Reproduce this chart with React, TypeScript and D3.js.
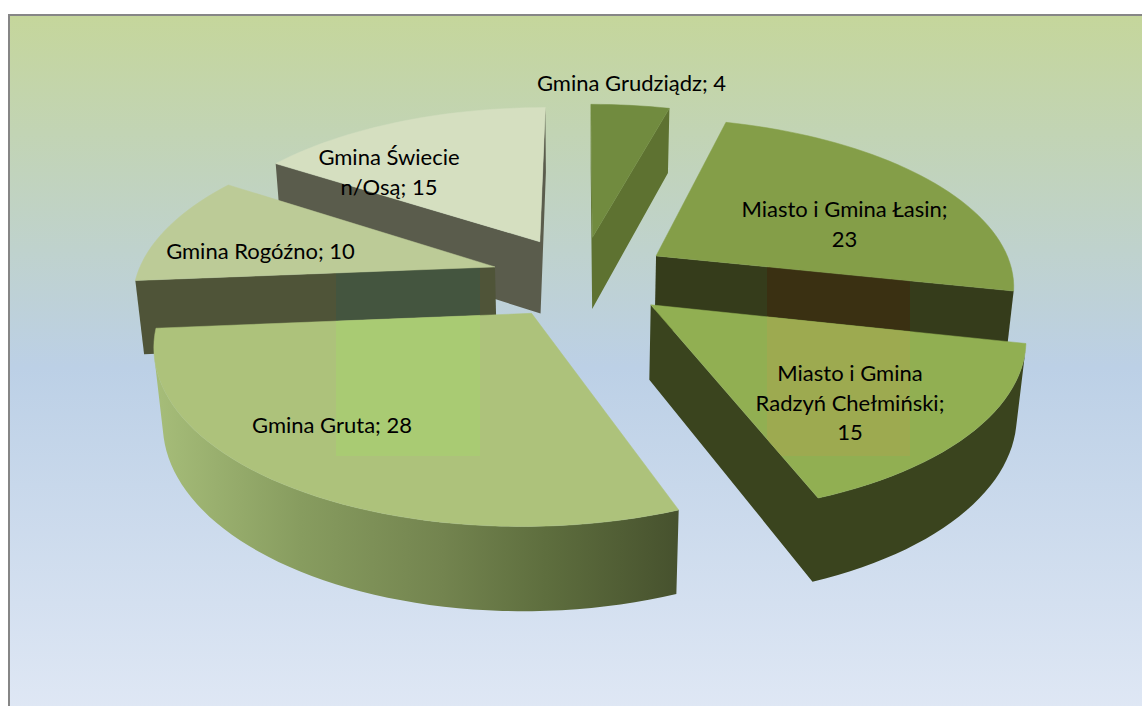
import React from "react";
import * as d3 from "d3";

const categories = ["Gmina Grudziądz", "Miasto i Gmina Łasin", "Miasto i Gmina Radzyń Chełmiński", "Gmina Gruta", "Gmina Rogóźno", "Gmina Świecie n/Osą"];
const values = [4, 23, 15, 28, 10, 15];
const labelLines = [
  ["Gmina Grudziądz; 4"],
  ["Miasto i Gmina Łasin;", "23"],
  ["Miasto i Gmina", "Radzyń Chełmiński;", "15"],
  ["Gmina Gruta; 28"],
  ["Gmina Rogóźno; 10"],
  ["Gmina Świecie", "n/Osą; 15"],
];
const labelAnchors = [[631.5, 91], [844.5, 217], [850, 381], [332, 433], [260.5, 259], [389, 165]];
const topColors = ["#718b3f", "#849e48", "#91af52", "#adc27b", "#bccb97", "#d5dfc0"];
const wallColors = ["#5e7231", "#353c1b", "#3a441e", "url(#grutaWall)", "#4f5438", "#5a5c4c"];
const grutaStops = [["0%", "#a6bd79"], ["28%", "#879c5f"], ["55%", "#73844f"], ["75%", "#5e6e3e"], ["100%", "#47522e"]];
const bgStops = [["0%", "#c5d69b"], ["50%", "#bcd0e6"], ["100%", "#e0e8f5"]];
const tints = [
  { slice: 4, face: "wall", x: 336, w: 144, fill: "#44553f" },
  { slice: 3, face: "top", x: 336, w: 144, fill: "#a9cb73" },
  { slice: 1, face: "wall", x: 767, w: 143, fill: "#3a3012" },
  { slice: 2, face: "top", x: 767, w: 143, fill: "#9daa50" },
];

const W = 1142, H = 706;
const cx = 581, cy = 277, Ax = 358.5, Ay = 166, Az = 75, k = 0.16, m = 0.02, explode = 0.25;

type Pt = [number, number];
const project = (X: number, Y: number, down: number): Pt => {
  const w = 1 - k * Y + m * down;
  return [cx + (Ax * X) / w, cy + (Ay * Y + Az * down) / w];
};
const line = d3.line<Pt>().x((d) => d[0]).y((d) => d[1]);
const closed = (pts: Pt[]) => (line(pts) as string) + "Z";
const facesViewer = (pts: Pt[]) => d3.polygonArea(pts) > 0;

const arcs = d3.pie<number>().sort(null).startAngle(0).endAngle(2 * Math.PI)(values);

const slices = arcs.map((a, i) => {
  const mid = (a.startAngle + a.endAngle) / 2;
  const ox = explode * Math.sin(mid), oy = -explode * Math.cos(mid);
  const n = Math.max(8, Math.ceil(((a.endAngle - a.startAngle) * 180) / Math.PI / 2));
  const angles = d3.range(n + 1).map((j) => a.startAngle + ((a.endAngle - a.startAngle) * j) / n);
  const rim = (down: number) => angles.map((t) => project(ox + Math.sin(t), oy - Math.cos(t), down));
  const apexTop = project(ox, oy, 0), apexBot = project(ox, oy, 1);
  const rimTop = rim(0), rimBot = rim(1);
  const parts: string[] = [];
  const wallA: Pt[] = [apexTop, rimTop[0], rimBot[0], apexBot];
  const wallB: Pt[] = [apexBot, rimBot[n], rimTop[n], apexTop];
  if (facesViewer(wallA)) parts.push(closed(wallA));
  if (facesViewer(wallB)) parts.push(closed(wallB));
  // The visible part of the outer wall, as one strip so that no seams show.
  const visible = d3.range(n).filter((j) => facesViewer([rimTop[j], rimTop[j + 1], rimBot[j + 1], rimBot[j]]));
  if (visible.length) {
    const from = visible[0], to = visible[visible.length - 1] + 1;
    parts.push(closed([...rimTop.slice(from, to + 1), ...rimBot.slice(from, to + 1).reverse()]));
  }
  return { i, oy, wall: parts.join(""), top: closed([apexTop, ...rimTop]) };
});
const drawOrder = [...slices].sort((a, b) => a.oy - b.oy);

export default function App() {
  return (
    <svg width={W} height={H} style={{ position: "absolute", left: 0, top: 0, display: "block" }} fontFamily="Lato, Carlito, sans-serif">
      <defs>
        <linearGradient id="bg" x1="0" y1="0" x2="0" y2="1">
          {bgStops.map(([o, c]) => <stop key={o} offset={o} stopColor={c} />)}
        </linearGradient>
        <linearGradient id="grutaWall" gradientUnits="userSpaceOnUse" x1={156} y1={0} x2={676} y2={0}>
          {grutaStops.map(([o, c]) => <stop key={o} offset={o} stopColor={c} />)}
        </linearGradient>
        {slices.map((s) => (
          <React.Fragment key={s.i}>
            <clipPath id={`top${s.i}`}><path d={s.top} /></clipPath>
            <clipPath id={`wall${s.i}`}><path d={s.wall} /></clipPath>
          </React.Fragment>
        ))}
      </defs>
      <rect x={9} y={15} width={W} height={H} fill="url(#bg)" stroke="#868686" strokeWidth={2} />
      {drawOrder.map((s) => (
        <g key={s.i}>
          <path d={s.wall} fill={wallColors[s.i]} />
          {tints.filter((t) => t.slice === s.i && t.face === "wall").map((t) => (
            <rect key={t.x} x={t.x} y={230} width={t.w} height={226} fill={t.fill} clipPath={`url(#wall${s.i})`} />
          ))}
          <path d={s.top} fill={topColors[s.i]} stroke={topColors[s.i]} strokeWidth={0.5} strokeLinejoin="round" />
          {tints.filter((t) => t.slice === s.i && t.face === "top").map((t) => (
            <rect key={t.x} x={t.x} y={230} width={t.w} height={226} fill={t.fill} clipPath={`url(#top${s.i})`} />
          ))}
        </g>
      ))}
      {categories.map((c, i) => (
        <text key={c} x={labelAnchors[i][0]} y={labelAnchors[i][1]} textAnchor="middle" fontSize={22} fill="#000">
          {labelLines[i].map((l, j) => <tspan key={j} x={labelAnchors[i][0]} dy={j ? 29.7 : 0}>{l}</tspan>)}
        </text>
      ))}
    </svg>
  );
}
